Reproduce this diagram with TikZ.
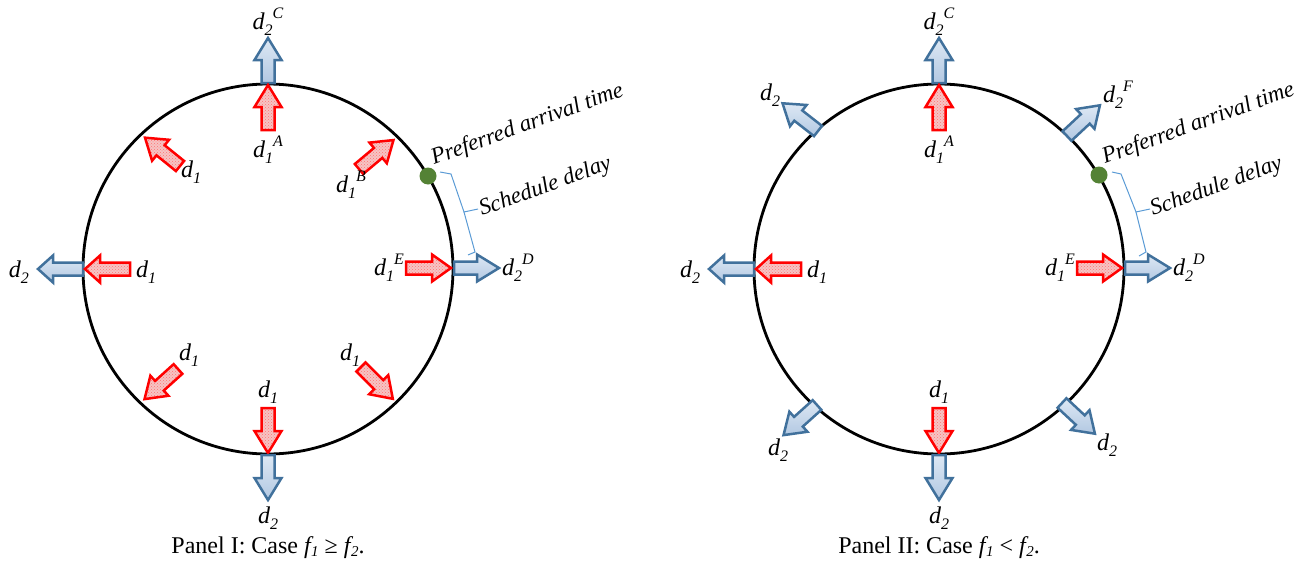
\documentclass[tikz,border=0pt]{standalone}
\usepackage{fontspec}
\setmainfont{Liberation Serif}[ItalicFont={Liberation Serif Italic}]
\usetikzlibrary{patterns}
\definecolor{bborder}{HTML}{41719C}
\definecolor{blight}{HTML}{DDE8F4}
\definecolor{bdark}{HTML}{B2C8E2}
\definecolor{rpink}{HTML}{F6C4C4}
\definecolor{dgreen}{HTML}{548235}
\definecolor{brk}{HTML}{5B9BD5}
\newcommand{\dsub}[1]{\textit{d\raisebox{-6pt}{\fontsize{16}{16}\selectfont #1}}}
\newcommand{\dsubsup}[2]{\textit{d\raisebox{-6pt}{\fontsize{16}{16}\selectfont #1}\raisebox{11pt}{\fontsize{16}{16}\selectfont #2}}}
\newcommand{\fsub}[1]{\textit{f\kern0.5pt\raisebox{-3pt}{\fontsize{15}{15}\selectfont #1}}}
\tikzset{
  lab/.style={font=\fontsize{24}{26}\selectfont, inner sep=0pt},
  note/.style={font=\fontsize{23}{25}\selectfont\itshape, inner sep=0pt, anchor=base west, rotate=20},
  capt/.style={font=\fontsize{24}{26}\selectfont, inner sep=0pt},
  bluearr/.style={draw=bborder, line width=2.5pt, line join=miter, top color=blight, bottom color=bdark},
  redarr/.style={draw=red, line width=2.5pt, line join=miter, preaction={fill=rpink}, pattern=crosshatch dots, pattern color=red!55},
  barrow/.pic={\path[bluearr] (0,-6.5) -- (45-#1,-6.5) -- (45-#1,-13.5) -- (45,0) -- (45-#1,13.5) -- (45-#1,6.5) -- (0,6.5) -- cycle;},
  rarrow/.pic={\path[redarr] (0,-6.5) -- (45-#1,-6.5) -- (45-#1,-13.5) -- (45,0) -- (45-#1,13.5) -- (45-#1,6.5) -- (0,6.5) -- cycle;},
  ring/.style={draw=black, line width=2.8pt},
  pdot/.style={circle, fill=dgreen, minimum size=17pt, inner sep=0pt},
  brace/.style={draw=brk, line width=1pt},
}
\begin{document}
\begin{tikzpicture}[x=1pt,y=-1pt]
\useasboundingbox (0,0) rectangle (1299,565);
% ---------------- Panel I ----------------
\coordinate (c1) at (268,269);
\draw[ring] (c1) circle (185);
% top
\path (268,83) pic[rotate=90]{barrow=22};
\path (268,130) pic[rotate=90]{rarrow=22};
\node[lab] (a1) at (268,22) {\dsubsup{2}{C}};
\node[lab] (a2) at (268,150) {\dsubsup{1}{A}};
% upper-left / upper-right
\path (180,166) pic[rotate=141]{rarrow=20};
\node[lab] (a3) at (191,172) {\dsub{1}};
\path (359,169) pic[rotate=40]{rarrow=20};
\node[lab] (a4) at (351,185) {\dsubsup{1}{B}};
% left
\path (83,269) pic[rotate=180]{barrow=15};
\path (130,269) pic[rotate=180]{rarrow=15};
\node[lab] (a5) at (19,272) {\dsub{2}};
\node[lab] (a6) at (146,272) {\dsub{1}};
% right
\path (406,268) pic[rotate=0]{rarrow=19};
\path (454,268) pic[rotate=0]{barrow=22};
\node[lab] (a7) at (389,268) {\dsubsup{1}{E}};
\node[lab] (a8) at (518,268) {\dsubsup{2}{D}};
% lower
\path (178,369) pic[rotate=222]{rarrow=20};
\node[lab] (a9) at (189,355) {\dsub{1}};
\path (361,367) pic[rotate=-45]{rarrow=20};
\node[lab] (a10) at (350,355) {\dsub{1}};
\path (268,408) pic[rotate=-90]{rarrow=22};
\path (268,455) pic[rotate=-90]{barrow=22};
\node[lab] (a11) at (268,392) {\dsub{1}};
\node[lab] (a12) at (268,518) {\dsub{2}};
% preferred arrival time
\node[pdot] (g1) at (428,176) {};
\node[note] (t1) at (434,165) {Preferred arrival time};
\draw[brace] (440,172) -- (451,174) -- (464,212) -- (478,209);
\draw[brace] (464,212) -- (475,252) -- (468,255);
\node[note] (t2) at (482,216) {Schedule delay};
\node[capt] (cap1) at (268,548) {Panel I: Case \fsub{1} ≥ \fsub{2}.};
% ---------------- Panel II ----------------
\coordinate (c2) at (939,269);
\draw[ring] (c2) circle (185);
% top
\path (939,83) pic[rotate=90]{barrow=22};
\path (939,130) pic[rotate=90]{rarrow=22};
\node[lab] (b1) at (939,22) {\dsubsup{2}{C}};
\node[lab] (b2) at (939,150) {\dsubsup{1}{A}};
% upper-left / upper-right
\path (818,131) pic[rotate=142]{barrow=20};
\node[lab] (b3) at (770,95) {\dsub{2}};
\path (1067,136) pic[rotate=43]{barrow=20};
\node[lab] (b4) at (1118,95) {\dsubsup{2}{F}};
% left
\path (754,269) pic[rotate=180]{barrow=15};
\path (801,269) pic[rotate=180]{rarrow=15};
\node[lab] (b5) at (690,272) {\dsub{2}};
\node[lab] (b6) at (817,272) {\dsub{1}};
% right
\path (1077,268) pic[rotate=0]{rarrow=19};
\path (1125,268) pic[rotate=0]{barrow=22};
\node[lab] (b7) at (1060,268) {\dsubsup{1}{E}};
\node[lab] (b8) at (1189,268) {\dsubsup{2}{D}};
% lower
\path (817,405) pic[rotate=222]{barrow=20};
\node[lab] (b9) at (778,450) {\dsub{2}};
\path (1062,403) pic[rotate=-43]{barrow=20};
\node[lab] (b10) at (1107,445) {\dsub{2}};
\path (939,408) pic[rotate=-90]{rarrow=22};
\path (939,455) pic[rotate=-90]{barrow=22};
\node[lab] (b11) at (939,392) {\dsub{1}};
\node[lab] (b12) at (939,518) {\dsub{2}};
% preferred arrival time
\node[pdot] (g2) at (1099,175) {};
\node[note] (t3) at (1105,164) {Preferred arrival time};
\draw[brace] (1112,172) -- (1121,174) -- (1136,212) -- (1150,209);
\draw[brace] (1136,212) -- (1146,252) -- (1139,256);
\node[note] (t4) at (1153,216) {Schedule delay};
\node[capt] (cap2) at (939,548) {Panel II: Case \fsub{1} < \fsub{2}.};
\end{tikzpicture}
\end{document}
